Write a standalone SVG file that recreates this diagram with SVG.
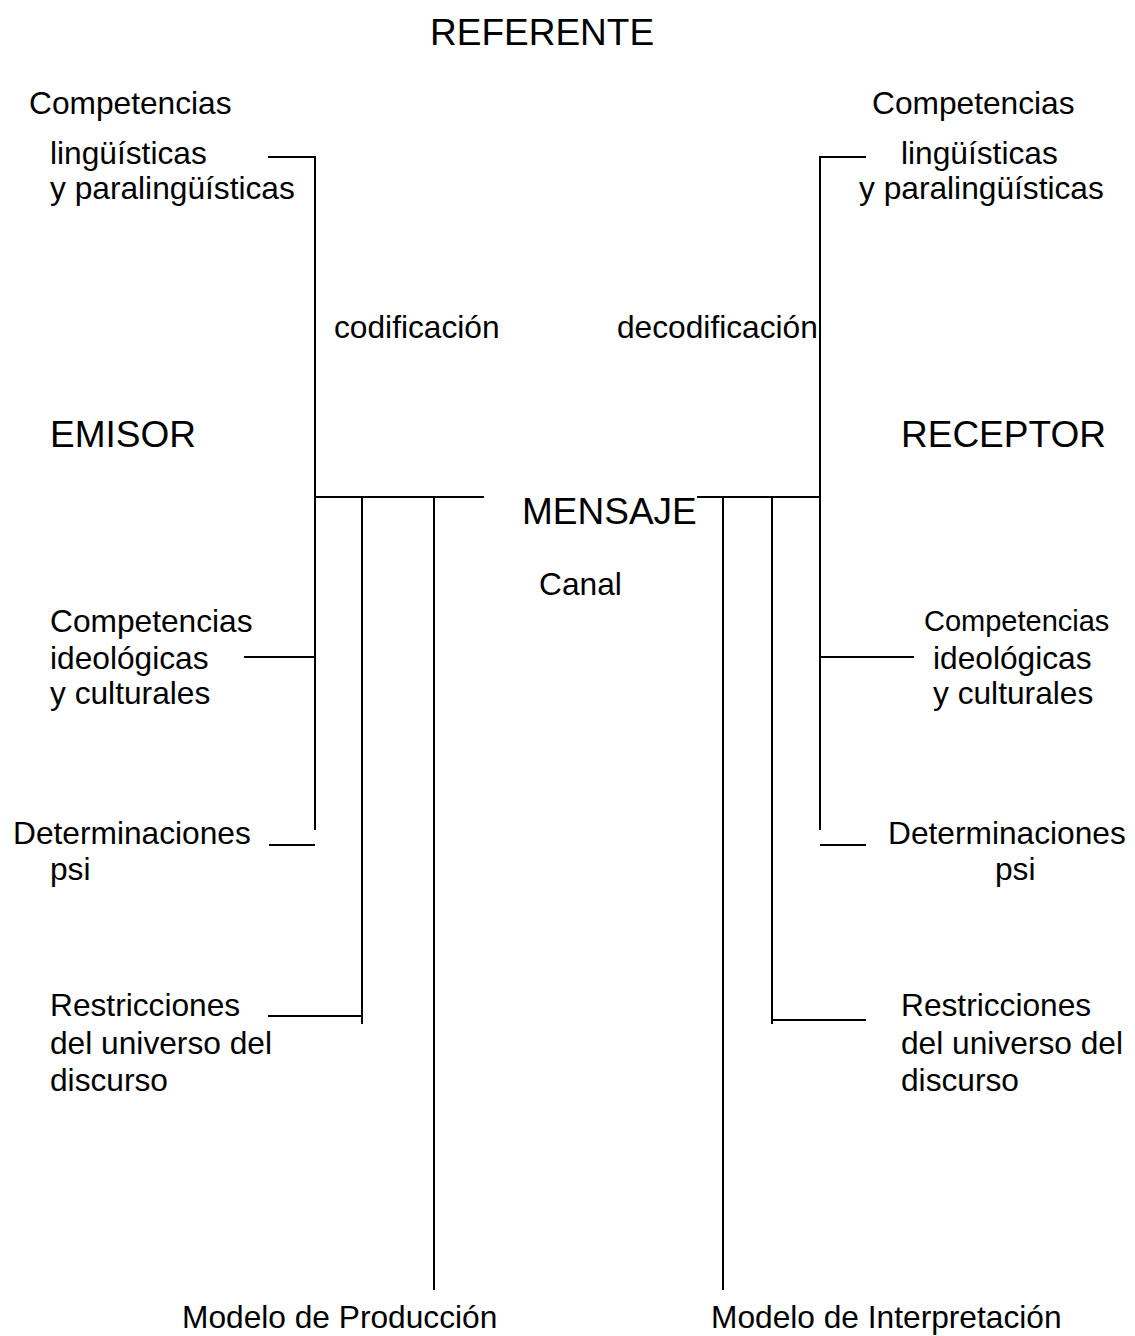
<svg xmlns="http://www.w3.org/2000/svg" width="1135" height="1336" viewBox="0 0 1135 1336">
  <style>
    text { font-family: "Liberation Sans", Arial, sans-serif; fill: #000; }
    .big { font-size: 37px; }
    .lbl { font-size: 31.7px; }
    .sml { font-size: 29px; }
    .ln { stroke: #000; stroke-width: 2; fill: none; }
  </style>
  <rect width="1135" height="1336" fill="#fff"/>

  <!-- connectors: brackets joining the sender/receiver competences to the message -->
  <g id="connectors">
    <!-- sender side -->
    <line class="ln" x1="268" y1="157" x2="316" y2="157"/>
    <line class="ln" x1="315" y1="156" x2="315" y2="830"/>
    <line class="ln" x1="315" y1="497" x2="484" y2="497"/>
    <line class="ln" x1="244" y1="657" x2="315" y2="657"/>
    <line class="ln" x1="269" y1="845" x2="315" y2="845"/>
    <line class="ln" x1="362" y1="497" x2="362" y2="1024"/>
    <line class="ln" x1="268" y1="1016" x2="362" y2="1016"/>
    <line class="ln" x1="434" y1="497" x2="434" y2="1290"/>
    <!-- receiver side -->
    <line class="ln" x1="819" y1="157" x2="866" y2="157"/>
    <line class="ln" x1="820" y1="156" x2="820" y2="830"/>
    <line class="ln" x1="697" y1="497" x2="820" y2="497"/>
    <line class="ln" x1="820" y1="657" x2="914" y2="657"/>
    <line class="ln" x1="820" y1="845" x2="866" y2="845"/>
    <line class="ln" x1="772" y1="497" x2="772" y2="1024"/>
    <line class="ln" x1="772" y1="1020" x2="866" y2="1020"/>
    <line class="ln" x1="723" y1="497" x2="723" y2="1290"/>
  </g>

  <g id="referente"><text class="big" x="430" y="45">REFERENTE</text></g>

  <g id="competencias-ling-emisor">
    <text class="lbl" x="29" y="114">Competencias</text>
    <text class="lbl" x="50" y="164">lingüísticas</text>
    <text class="lbl" x="50" y="199">y paralingüísticas</text>
  </g>
  <g id="competencias-ling-receptor">
    <text class="lbl" x="872" y="114">Competencias</text>
    <text class="lbl" x="901" y="164">lingüísticas</text>
    <text class="lbl" x="859" y="199">y paralingüísticas</text>
  </g>

  <g id="codificacion"><text class="lbl" x="334" y="338">codificación</text></g>
  <g id="decodificacion"><text class="lbl" x="617" y="338">decodificación</text></g>

  <g id="emisor"><text class="big" x="50" y="447">EMISOR</text></g>
  <g id="receptor"><text class="big" x="901" y="447">RECEPTOR</text></g>

  <g id="mensaje"><text class="big" x="522" y="524">MENSAJE</text></g>
  <g id="canal"><text class="lbl" x="539" y="595">Canal</text></g>

  <g id="competencias-ideo-emisor">
    <text class="lbl" x="50" y="632">Competencias</text>
    <text class="lbl" x="50" y="669">ideológicas</text>
    <text class="lbl" x="50" y="704">y culturales</text>
  </g>
  <g id="competencias-ideo-receptor">
    <text class="sml" x="924" y="631">Competencias</text>
    <text class="lbl" x="933" y="669">ideológicas</text>
    <text class="lbl" x="933" y="704">y culturales</text>
  </g>

  <g id="determinaciones-emisor">
    <text class="lbl" x="13" y="844">Determinaciones</text>
    <text class="lbl" x="50" y="880">psi</text>
  </g>
  <g id="determinaciones-receptor">
    <text class="lbl" x="888" y="844">Determinaciones</text>
    <text class="lbl" x="995" y="880">psi</text>
  </g>

  <g id="restricciones-emisor">
    <text class="lbl" x="50" y="1016">Restricciones</text>
    <text class="lbl" x="50" y="1054">del universo del</text>
    <text class="lbl" x="50" y="1091">discurso</text>
  </g>
  <g id="restricciones-receptor">
    <text class="lbl" x="901" y="1016">Restricciones</text>
    <text class="lbl" x="901" y="1054">del universo del</text>
    <text class="lbl" x="901" y="1091">discurso</text>
  </g>

  <g id="modelo-produccion"><text class="lbl" x="182" y="1328">Modelo de Producción</text></g>
  <g id="modelo-interpretacion"><text class="lbl" x="711" y="1328">Modelo de Interpretación</text></g>
</svg>
